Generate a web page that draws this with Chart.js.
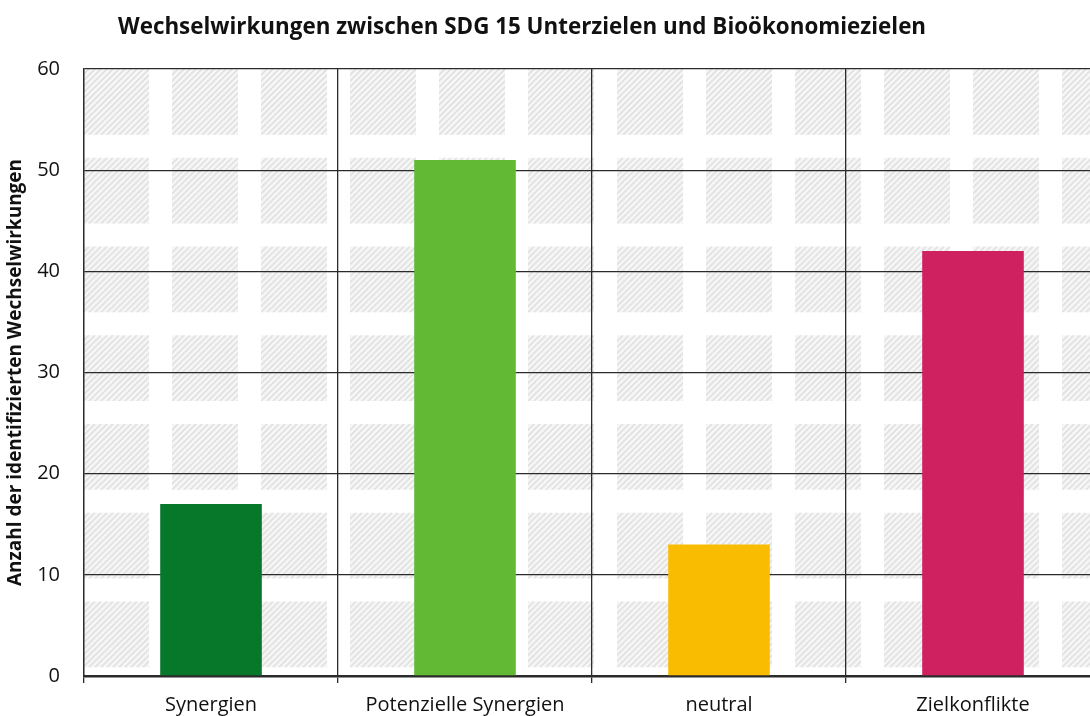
<!DOCTYPE html>
<html>
<head>
<meta charset="utf-8">
<script src="https://cdn.jsdelivr.net/npm/chart.js@4"></script>
<style>
  html, body { margin: 0; padding: 0; background: #fff; overflow: hidden; }
  #wrap { width: 1100px; height: 716px; }
</style>
</head>
<body>
<div id="wrap"><canvas id="chart" width="1100" height="716"></canvas></div>
<script>
// chart data
const categories = ['Synergien', 'Potenzielle Synergien', 'neutral', 'Zielkonflikte'];
const counts = [17, 51, 13, 42];
const barColors = ['#077729', '#62B934', '#F9BC00', '#CF2160'];
const titleText = 'Wechselwirkungen zwischen SDG 15 Unterzielen und Bioökonomiezielen';
const yTitle = 'Anzahl der identifizierten Wechselwirkungen';

const FONT = '"Open Sans", sans-serif';
const GRID = '#2b2b2b';

// tile with one hatched square, repeated over the plot area
function makeTile() {
  const c = document.createElement('canvas');
  c.width = 89; c.height = 89;
  const g = c.getContext('2d');
  g.save();
  g.beginPath();
  g.rect(0, 0, 66, 66);
  g.clip();
  g.fillStyle = '#f7f7f7';
  g.fillRect(0, 0, 66, 66);
  g.strokeStyle = '#e0e0e0';
  g.lineWidth = 1.7;
  for (let k = -84; k < 160; k += 6) {
    g.beginPath();
    g.moveTo(k, 72);
    g.lineTo(k + 72, 0);
    g.stroke();
  }
  g.restore();
  return c;
}

const patternBg = {
  id: 'patternBg',
  beforeDraw(chart) {
    const { ctx, chartArea: a } = chart;
    const pat = ctx.createPattern(makeTile(), 'repeat');
    pat.setTransform(new DOMMatrix().translate(a.left - 1, a.top).scale(1, 0.997));
    ctx.save();
    ctx.fillStyle = pat;
    ctx.fillRect(a.left, a.top, a.right - a.left, a.bottom - a.top);
    ctx.restore();
  }
};

const titlePlugin = {
  id: 'titlePlugin',
  afterDraw(chart) {
    const ctx = chart.ctx;
    ctx.save();
    ctx.font = 'bold 22.4px ' + FONT;
    ctx.fillStyle = '#111';
    ctx.textBaseline = 'middle';
    ctx.fillText(titleText, 118, 28);
    ctx.restore();
  }
};

new Chart(document.getElementById('chart'), {
  type: 'bar',
  data: {
    labels: categories,
    datasets: [{
      data: counts,
      backgroundColor: barColors,
      barPercentage: 0.4,
      categoryPercentage: 1.0,
    }],
  },
  options: {
    responsive: false,
    animation: false,
    layout: { padding: { top: 69, right: 0, left: 0, bottom: 0 } },
    plugins: {
      legend: { display: false },
      title: { display: false },
      tooltip: { enabled: false },
    },
    scales: {
      x: {
        grid: {
          offset: true,
          color: GRID,
          lineWidth: 1.3,
          drawTicks: true,
          tickLength: 7,
        },
        border: { color: GRID, width: 2.5 },
        ticks: { color: '#111', font: { family: FONT, size: 20 }, padding: 10 },
        afterFit(scale) { scale.height = 40; },
      },
      y: {
        min: 0,
        max: 60,
        ticks: { stepSize: 10, color: '#111', font: { family: FONT, size: 20 }, padding: 24 },
        grid: { color: GRID, lineWidth: 1.3, drawTicks: false },
        border: { color: GRID, width: 1.3 },
        title: {
          display: true,
          text: yTitle,
          color: '#111',
          font: { family: FONT, size: 19, weight: 'bold' },
          padding: { top: 4, bottom: 0 },
        },
        afterFit(scale) { scale.width = 84; },
      },
    },
  },
  plugins: [patternBg, titlePlugin],
});
</script>
</body>
</html>
